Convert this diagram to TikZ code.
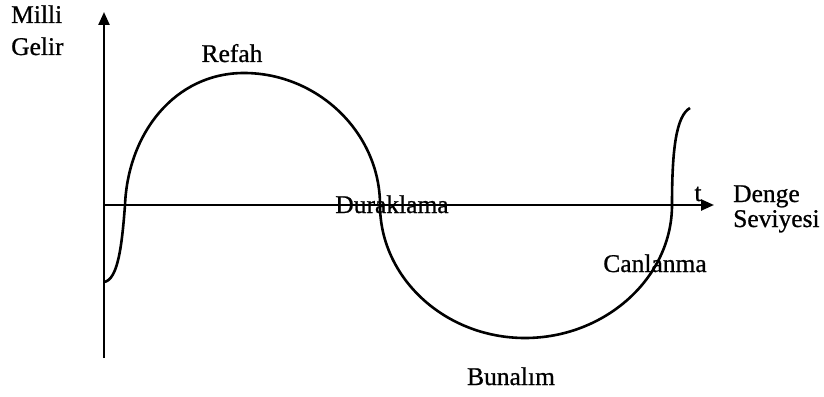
\documentclass[tikz,border=0pt]{standalone}
\usepackage{fontspec}
\setmainfont{Liberation Serif}
\newfontfamily\scanfont{Liberation Serif}[FakeBold=0.8]
\usepackage{tikz}
\usetikzlibrary{positioning,arrows.meta}
\tikzset{
  axis/.style={-{Triangle[length=13pt,width=11pt]}, line width=2.4pt, draw=black},
  wave/.style={line width=2.6pt, draw=black},
  lbl/.style={font=\scanfont\fontsize{25.5}{30}\selectfont, inner sep=0pt, anchor=base},
  lbll/.style={lbl, anchor=base west, align=left},
}

\begin{document}
\begin{tikzpicture}[x=1pt, y=-1pt]
  \useasboundingbox (0,0) rectangle (824,396);

  % --- eksenler
  \coordinate (o) at (104,205);
  \coordinate (ybot) at (104,358);
  \coordinate (ytop) at (104,12);
  \coordinate (xend) at (714,205);
  \draw[axis] (ybot) -- (ytop);
  \draw[axis] (o) -- (xend);

  % --- dalga
  \coordinate (start) at (104,282);
  \coordinate (c1) at (125,205);
  \coordinate (peak) at (244,73);
  \coordinate (c2) at (380,205);
  \coordinate (trough) at (525,338);
  \coordinate (c3) at (672,205);
  \coordinate (stop) at (690,108);
  \draw[wave] (start) .. controls (118,280) and (122,245) .. (c1)
    .. controls (128,133) and (175,73) .. (peak)
    .. controls (318,73) and (380,133) .. (c2)
    .. controls (380,278) and (445,338) .. (trough)
    .. controls (605,338) and (672,278) .. (c3)
    .. controls (672,150) and (676,116) .. (stop);

  % --- etiketler
  \node[lbll] (gelir) at (11,55) {Milli\\[2pt]Gelir};
  \node[lbl] (refah) at (232,62) {Refah};
  \node[lbl] (durak) at (392,213) {Duraklama};
  \node[lbl] (t) at (698,201) {t};
  \node[lbll] (denge) at (733,227) {Denge\\[-5pt]Seviyesi};
  \node[lbl] (canlan) at (655,272) {Canlanma};
  \node[lbl] (bunal) at (511,385) {Bunalım};
\end{tikzpicture}
\end{document}
